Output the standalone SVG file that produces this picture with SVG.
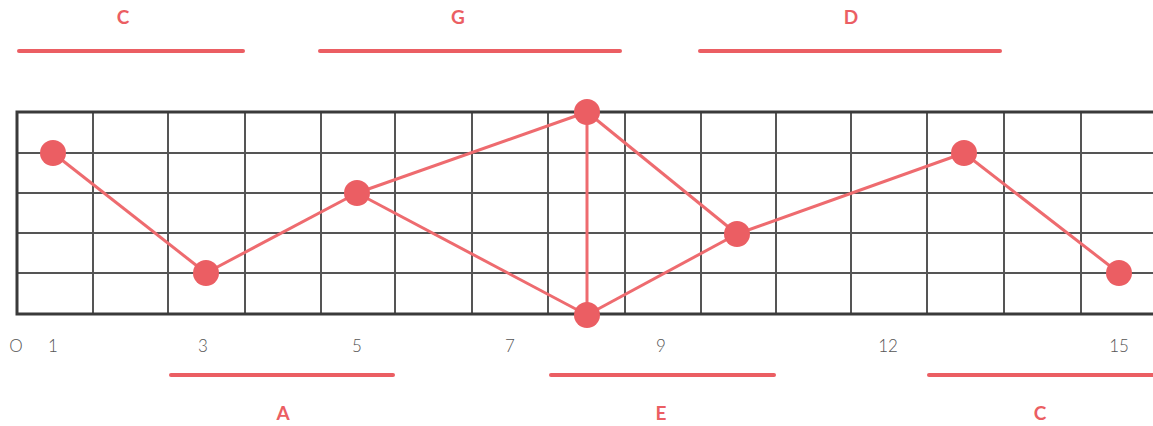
<svg xmlns="http://www.w3.org/2000/svg" width="1153" height="426" viewBox="0 0 1153 426">
<style>
.grid{stroke:#555;stroke-width:2;fill:none}
.border{stroke:#3a3a3a;stroke-width:3;fill:none}
.bar{stroke:#EB5E63;stroke-width:4;stroke-linecap:round}
.lbl{font-family:Lato,"Liberation Sans",sans-serif;font-weight:700;font-size:19px;fill:#EB5E63;text-anchor:middle}
.num{font-family:Lato,"Liberation Sans",sans-serif;font-weight:300;font-size:17px;fill:#555;text-anchor:middle}
.edge{stroke:#EE6B6F;stroke-width:3;fill:none}
.dot{fill:#EB5E63}
</style>
<g id="chords-top">
<line class="bar" x1="19" y1="51" x2="243" y2="51"/>
<text class="lbl" x="123" y="24">C</text>
<line class="bar" x1="320" y1="51" x2="620" y2="51"/>
<text class="lbl" x="458" y="24">G</text>
<line class="bar" x1="700" y1="51" x2="1000" y2="51"/>
<text class="lbl" x="851" y="24">D</text>
</g>
<g id="grid">
<g class="grid">
<line x1="17" y1="153" x2="1153" y2="153"/>
<line x1="17" y1="193" x2="1153" y2="193"/>
<line x1="17" y1="233" x2="1153" y2="233"/>
<line x1="17" y1="273" x2="1153" y2="273"/>
<line x1="93" y1="112" x2="93" y2="314"/>
<line x1="168" y1="112" x2="168" y2="314"/>
<line x1="245" y1="112" x2="245" y2="314"/>
<line x1="321" y1="112" x2="321" y2="314"/>
<line x1="395" y1="112" x2="395" y2="314"/>
<line x1="472" y1="112" x2="472" y2="314"/>
<line x1="548" y1="112" x2="548" y2="314"/>
<line x1="625" y1="112" x2="625" y2="314"/>
<line x1="701" y1="112" x2="701" y2="314"/>
<line x1="776" y1="112" x2="776" y2="314"/>
<line x1="851" y1="112" x2="851" y2="314"/>
<line x1="927" y1="112" x2="927" y2="314"/>
<line x1="1004" y1="112" x2="1004" y2="314"/>
<line x1="1081" y1="112" x2="1081" y2="314"/>
</g>
<polyline class="border" points="1153,112 17,112 17,314 1153,314"/>
</g>
<g id="connectors">
<line class="edge" x1="53" y1="153" x2="206" y2="273"/>
<line class="edge" x1="206" y1="273" x2="357" y2="193"/>
<line class="edge" x1="357" y1="193" x2="587" y2="112"/>
<line class="edge" x1="357" y1="193" x2="587" y2="315"/>
<line class="edge" x1="587" y1="112" x2="587" y2="315"/>
<line class="edge" x1="587" y1="112" x2="737" y2="234"/>
<line class="edge" x1="587" y1="315" x2="737" y2="234"/>
<line class="edge" x1="737" y1="234" x2="964" y2="153"/>
<line class="edge" x1="964" y1="153" x2="1119" y2="273"/>
</g>
<g id="n1"><circle class="dot" cx="53" cy="153" r="13"/></g>
<g id="n2"><circle class="dot" cx="206" cy="273" r="13"/></g>
<g id="n3"><circle class="dot" cx="357" cy="193" r="13"/></g>
<g id="n4"><circle class="dot" cx="587" cy="112" r="13"/></g>
<g id="n5"><circle class="dot" cx="587" cy="315" r="13"/></g>
<g id="n6"><circle class="dot" cx="737" cy="234" r="13"/></g>
<g id="n7"><circle class="dot" cx="964" cy="153" r="13"/></g>
<g id="n8"><circle class="dot" cx="1119" cy="273" r="13"/></g>
<g id="frets">
<text class="num" x="16" y="352">O</text>
<text class="num" x="53" y="352">1</text>
<text class="num" x="203" y="352">3</text>
<text class="num" x="357" y="352">5</text>
<text class="num" x="510" y="352">7</text>
<text class="num" x="661" y="352">9</text>
<text class="num" x="888" y="352">12</text>
<text class="num" x="1119" y="352">15</text>
</g>
<g id="chords-bottom">
<line class="bar" x1="171" y1="375" x2="393" y2="375"/>
<text class="lbl" x="283" y="420">A</text>
<line class="bar" x1="551" y1="375" x2="774" y2="375"/>
<text class="lbl" x="661" y="420">E</text>
<line class="bar" x1="929" y1="375" x2="1153" y2="375"/>
<text class="lbl" x="1040" y="420">C</text>
</g>
</svg>
